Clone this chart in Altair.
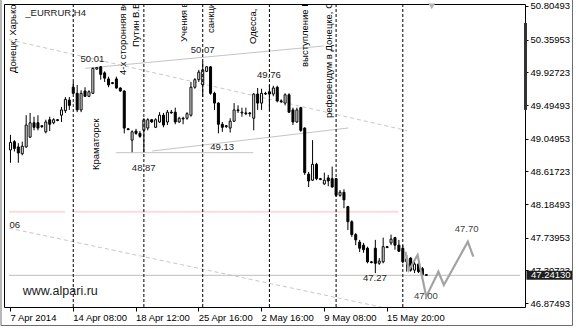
import altair as alt
import pandas as pd

FONT = "Liberation Sans"

# ---------------- candle data (EURRUR H4, bar index order) ----------------
opens = [48.90, 49.01, 48.94, 48.85, 48.94, 49.07, 49.26, 49.26, 49.22, 49.14,
         49.30, 49.26, 49.30, 49.36, 49.42, 49.56, 49.73, 49.65, 49.43, 49.68,
         49.61, 49.65, 49.97, 50.00, 49.92, 49.84, 49.79, 49.84, 49.72, 49.68,
         49.18, 49.03, 49.15, 49.12, 49.16, 49.19, 49.30, 49.20, 49.27, 49.36,
         49.27, 49.40, 49.40, 49.27, 49.32, 49.32, 49.36, 49.73, 49.83, 49.76,
         49.94, 50.00, 49.65, 49.52, 49.24, 49.22, 49.19, 49.28, 49.43, 49.39,
         49.39, 49.39, 49.32, 49.64, 49.52, 49.65, 49.67, 49.64, 49.73, 49.55,
         49.52, 49.63, 49.43, 49.27, 49.46, 49.19, 48.58, 48.50, 48.71, 48.52,
         48.45, 48.53, 48.52, 48.52, 48.30, 48.34, 48.15, 47.95, 47.78, 47.68,
         47.64, 47.60, 47.42, 47.60, 47.40, 47.42, 47.62, 47.67, 47.74, 47.64,
         47.60, 47.42, 47.47, 47.31, 47.39, 47.33, 47.25]
highs = [49.10, 49.03, 48.99, 49.01, 49.36, 49.39, 49.34, 49.36, 49.23, 49.30,
         49.34, 49.32, 49.31, 49.47, 49.60, 49.60, 49.80, 49.76, 49.69, 49.73,
         49.69, 49.99, 49.99, 50.01, 49.94, 49.87, 49.80, 49.87, 49.73, 49.69,
         49.19, 49.16, 49.18, 49.15, 49.32, 49.32, 49.31, 49.32, 49.40, 49.39,
         49.43, 49.43, 49.46, 49.34, 49.34, 49.40, 49.80, 49.85, 49.96, 50.07,
         50.01, 50.01, 49.67, 49.53, 49.27, 49.23, 49.32, 49.52, 49.49, 49.46,
         49.46, 49.40, 49.65, 49.72, 49.71, 49.67, 49.76, 49.75, 49.75, 49.57,
         49.65, 49.65, 49.46, 49.46, 49.47, 49.20, 48.61, 49.03, 48.73, 48.53,
         48.60, 48.57, 48.68, 48.53, 48.37, 48.38, 48.16, 47.97, 47.80, 47.71,
         47.67, 47.62, 47.43, 47.71, 47.47, 47.74, 47.63, 47.78, 47.75, 47.71,
         47.64, 47.51, 47.48, 47.42, 47.42, 47.35, 47.25]
lows = [48.73, 48.88, 48.73, 48.83, 48.93, 49.06, 49.16, 49.16, 49.19, 49.12,
        49.15, 49.24, 49.28, 49.27, 49.39, 49.43, 49.64, 49.40, 49.40, 49.60,
        49.60, 49.64, 49.96, 49.83, 49.80, 49.73, 49.77, 49.71, 49.67, 49.12,
        49.16, 48.87, 49.10, 49.06, 48.87, 49.16, 49.26, 49.19, 49.26, 49.20,
        49.23, 49.38, 49.24, 49.26, 49.24, 49.30, 49.34, 49.71, 49.80, 49.60,
        49.93, 49.63, 49.43, 49.12, 49.14, 49.19, 49.13, 49.27, 49.39, 49.34,
        49.36, 49.34, 49.16, 49.43, 49.43, 49.63, 49.43, 49.61, 49.53, 49.52,
        49.49, 49.39, 49.23, 49.26, 49.14, 48.57, 48.41, 48.49, 48.50, 48.50,
        48.44, 48.42, 48.40, 48.28, 48.28, 48.13, 47.84, 47.75, 47.64, 47.55,
        47.54, 47.40, 47.40, 47.27, 47.38, 47.40, 47.60, 47.64, 47.58, 47.55,
        47.40, 47.29, 47.29, 47.27, 47.27, 47.23, 47.24]
closes = [49.00, 48.92, 48.86, 48.95, 49.23, 49.26, 49.20, 49.19, 49.21, 49.27,
          49.24, 49.30, 49.29, 49.43, 49.57, 49.49, 49.65, 49.43, 49.65, 49.61,
          49.67, 49.98, 49.99, 49.90, 49.85, 49.76, 49.78, 49.72, 49.68, 49.19,
          49.17, 49.14, 49.12, 49.08, 49.30, 49.30, 49.27, 49.30, 49.36, 49.23,
          49.40, 49.39, 49.27, 49.32, 49.31, 49.38, 49.73, 49.83, 49.93, 49.96,
          50.00, 49.65, 49.52, 49.24, 49.20, 49.21, 49.28, 49.43, 49.42, 49.40,
          49.38, 49.38, 49.64, 49.52, 49.65, 49.64, 49.64, 49.72, 49.55, 49.54,
          49.63, 49.40, 49.27, 49.43, 49.16, 48.60, 48.49, 48.71, 48.52, 48.51,
          48.50, 48.49, 48.41, 48.30, 48.34, 48.24, 47.95, 47.78, 47.71, 47.60,
          47.58, 47.42, 47.41, 47.40, 47.43, 47.62, 47.61, 47.72, 47.64, 47.56,
          47.42, 47.46, 47.31, 47.39, 47.29, 47.25, 47.2413]

# ---------------- axes ----------------
tick_idx = [0, 16, 32, 48, 64, 80, 96]
tick_labels = ["7 Apr 2014", "14 Apr 08:00", "18 Apr 12:00", "25 Apr 16:00",
               "2 May 16:00", "9 May 08:00", "15 May 20:00"]
price_ticks = [50.80493, 50.35953, 49.92723, 49.49493, 49.04953,
               48.61723, 48.18493, 47.73953, 47.30723, 46.87493]
last_price = 47.24130
x_domain = [-0.25, 130]
y_domain = [46.82209, 50.83139]

# ---------------- annotations ----------------
event_idx = [16, 34, 49, 66, 83, 100]

event_texts = ["Донецк, Харьков", "Краматорск", "4-х сторонняя вст", "Путин В.В.",
               "Учения в", "санкции", "Одесса, ", "выступление Пу",
               "референдум в Донецке, Сл"]
event_text_x = [0.75, 22.0, 28.9, 32.1, 44.25, 51.25, 61.9, 75.25, 81.25]
event_text_y = [49.918, 48.635, 49.892, 50.262, 50.328, 50.447, 50.302, 49.998, 49.323]

level_texts = ["50.01", "50.07", "49.76", "49.13", "48.87", "47.27"]
level_x = [21.0, 49.1, 66.0, 54.1, 34.1, 93.0]
level_y = [50.110, 50.222, 49.892, 48.939, 48.661, 47.200]

edge_text = ["06"]
edge_x = [-0.1]
edge_y = [47.907]

fc_x = [100.8, 101.7, 103.9, 106.1, 109.2, 110.6, 116.7, 118.1]
fc_y = [47.554, 47.312, 47.510, 46.958, 47.289, 47.113, 47.686, 47.488]
fc_texts = ["47.70", "47.00"]
fc_text_x = [116.4, 106.0]
fc_text_y = [47.848, 46.962]

# line objects: x1, y1, x2, y2
solid_x1 = [19.2, 36.25, 27.0]
solid_y1 = [49.980, 48.886, 48.864]
solid_x2 = [80.0, 86.25, 62.0]
solid_y2 = [50.276, 49.191, 48.864]

dash_x1 = [-0.25, -0.25]
dash_y1 = [50.360, 47.866]
dash_x2 = [101.25, 98.75]
dash_y2 = [49.155, 46.776]

pink_x1 = [-0.25, 16.0]
pink_x2 = [14.0, 99.0]
pink_level = 48.083

bar_top = 50.58
bar_bottom = 49.43
marker_x = [107.5]
marker_y = [50.80]

# ---------------- build ----------------
n = len(opens)
candles = pd.DataFrame({"i": list(range(n)), "o": opens, "h": highs, "l": lows, "c": closes})
candles["fill"] = ["white" if c >= o else "black" for o, c in zip(opens, closes)]

xs = alt.Scale(domain=x_domain, nice=False, zero=False)
ys = alt.Scale(domain=y_domain, nice=False, zero=False)

label_expr = " : ".join(
    f"datum.value == {v} ? '{t}'" for v, t in zip(tick_idx, tick_labels)
) + " : ''"

x_axis = alt.Axis(values=tick_idx, labelExpr=label_expr, title=None, grid=False,
                  domain=False, tickSize=4, tickColor="black", labelAlign="left",
                  labelPadding=1, labelFont=FONT, labelFontSize=9.5,
                  labelColor="black", labelFlush=False, labelOverlap=False)
y_axis = alt.Axis(orient="right", values=price_ticks, format=".5f", title=None,
                  grid=False, domain=False, tickSize=3, tickColor="black",
                  labelPadding=2, labelFont=FONT, labelFontSize=9.5,
                  labelColor="black", labelFlush=False, labelOverlap=False)


def X(f):
    return alt.X(f, type="quantitative", scale=xs, axis=x_axis)


def Y(f):
    return alt.Y(f, type="quantitative", scale=ys, axis=y_axis)


seg_solid = pd.DataFrame({"x1": solid_x1, "y1": solid_y1, "x2": solid_x2, "y2": solid_y2})
seg_dash = pd.DataFrame({"x1": dash_x1, "y1": dash_y1, "x2": dash_x2, "y2": dash_y2})
seg_pink = pd.DataFrame({"x1": pink_x1, "x2": pink_x2, "y1": [pink_level] * len(pink_x1)})
cur = pd.DataFrame({"x1": [x_domain[0]], "x2": [x_domain[1]], "y1": [last_price]})

l_solid = alt.Chart(seg_solid).mark_rule(color="#c4c4c4", strokeWidth=1, clip=True).encode(
    x=X("x1"), y=Y("y1"), x2="x2", y2="y2")
l_dash = alt.Chart(seg_dash).mark_rule(color="#c8c8c8", strokeWidth=1, strokeDash=[4, 3], clip=True).encode(
    x=X("x1"), y=Y("y1"), x2="x2", y2="y2")
l_pink = alt.Chart(seg_pink).mark_rule(color="#f9dcdc", strokeWidth=2, clip=True).encode(
    x=X("x1"), y=Y("y1"), x2="x2")
l_cur = alt.Chart(cur).mark_rule(color="#bdbdbd", strokeWidth=1, clip=True).encode(
    x=X("x1"), y=Y("y1"), x2="x2")

wicks = alt.Chart(candles).mark_rule(color="black", strokeWidth=1, xOffset=0.5, clip=True).encode(
    x=X("i"), y=Y("l"), y2="h")
bodies = alt.Chart(candles).mark_bar(size=2, stroke="black", strokeWidth=1, xOffset=0.5, clip=True).encode(
    x=X("i"), y=Y("o"), y2="c", fill=alt.Fill("fill:N", scale=None))

ev = pd.DataFrame({"i": event_idx})
vlines = alt.Chart(ev).mark_rule(color="black", strokeWidth=1, strokeDash=[3, 2], xOffset=0.5).encode(
    x=X("i"), y=alt.value(0), y2=alt.value(303))

ev_txt = pd.DataFrame({"t": event_texts, "x": event_text_x, "y": event_text_y})
ev_text = alt.Chart(ev_txt).mark_text(angle=270, align="left", baseline="middle", font=FONT,
                                      fontSize=9.5, color="black", clip=True).encode(
    x=X("x"), y=Y("y"), text="t")

lv = pd.DataFrame({"t": level_texts, "x": level_x, "y": level_y})
lv_text = alt.Chart(lv).mark_text(align="center", baseline="middle", font=FONT, fontSize=9.5,
                                  color="#222222", clip=True).encode(x=X("x"), y=Y("y"), text="t")
ed = pd.DataFrame({"t": edge_text, "x": edge_x, "y": edge_y})
ed_text = alt.Chart(ed).mark_text(align="left", baseline="middle", font=FONT, fontSize=9.5,
                                  color="#222222", clip=True).encode(x=X("x"), y=Y("y"), text="t")

fc = pd.DataFrame({"x": fc_x, "y": fc_y, "k": list(range(len(fc_x)))})
fc_line = alt.Chart(fc).mark_line(color="#a3a3a3", strokeWidth=2.2, clip=True).encode(
    x=X("x"), y=Y("y"), order="k:Q")
fct = pd.DataFrame({"t": fc_texts, "x": fc_text_x, "y": fc_text_y})
fc_text = alt.Chart(fct).mark_text(align="center", baseline="middle", font=FONT, fontSize=9.5,
                                   color="#444444").encode(x=X("x"), y=Y("y"), text="t")

hdr = pd.DataFrame({"t": ["_EURRUR,H4", "www.alpari.ru"], "x": [3.9, 3.25], "y": [50.706, 47.034],
                    "s": [9.5, 12.5]})
hdr_text = alt.Chart(hdr).mark_text(align="left", baseline="middle", font=FONT, color="#1a1a1a").encode(
    x=X("x"), y=Y("y"), text="t", size=alt.Size("s:Q", scale=None))

mk = pd.DataFrame({"x": marker_x, "y": marker_y})
marker = alt.Chart(mk).mark_point(shape="triangle-down", filled=True, color="#b4b4b4", size=45,
                                  opacity=1).encode(x=X("x"), y=Y("y"))

one = pd.DataFrame({"y1": [bar_top], "y2": [bar_bottom], "p": [last_price],
                    "lbl": [f"{last_price:.5f}"]})
side_bar = alt.Chart(one).mark_rect(color="#333333").encode(
    x=alt.value(520), x2=alt.value(523), y=Y("y1"), y2="y2")
box = alt.Chart(one).mark_rect(color="#1e1e1e", yOffset=-4.5, y2Offset=4.5).encode(
    x=alt.value(522.5), x2=alt.value(569), y=Y("p"), y2="p")
box_text = alt.Chart(one).mark_text(align="left", baseline="middle", font=FONT, fontSize=9.5,
                                    color="white").encode(x=alt.value(527), y=Y("p"), text="lbl")
frame = alt.Chart(one).mark_rect(fill=None, stroke="#6e6e6e", strokeWidth=1).encode(
    x=alt.value(-3), x2=alt.value(568.5), y=alt.value(-4.5), y2=alt.value(321.5))

chart = alt.layer(
    l_dash, l_solid, l_pink, l_cur, wicks, bodies, vlines, ev_text, lv_text, ed_text,
    fc_line, fc_text, hdr_text, marker, side_bar, box, box_text, frame
).properties(
    width=521, height=303,
    autosize=alt.AutoSizeParams(type="none"),
    padding={"left": 4, "top": 4, "right": 51, "bottom": 22},
    background="white",
).configure_view(stroke="black", strokeWidth=1)

chart.save("out.html", embed_options={"renderer": "svg", "actions": False})
